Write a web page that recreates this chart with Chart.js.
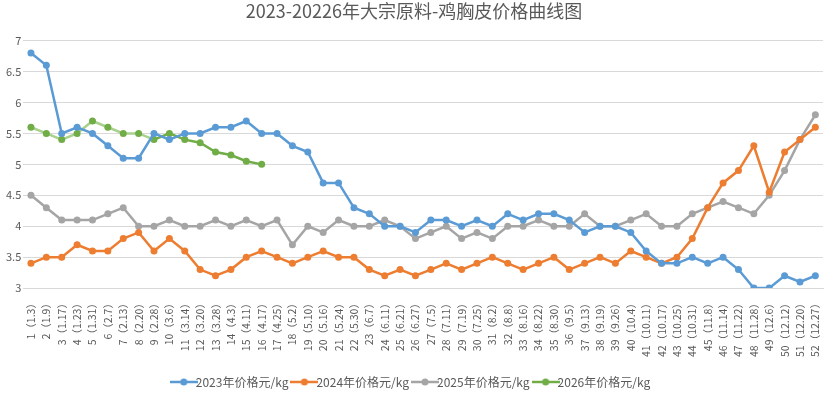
<!DOCTYPE html>
<html>
<head>
<meta charset="utf-8">
<script src="https://cdn.jsdelivr.net/npm/chart.js@4"></script>
<style>
  body { margin: 0; background: #fff; }
  #wrap { width: 830px; height: 395px; }
</style>
</head>
<body>
<div id="wrap"><canvas id="myChart"></canvas></div>
<script>
// 周次（日期）
const semanas = [
  "1（1.3）", "2（1.9）", "3（1.17）", "4（1.23）", "5（1.31）", "6（2.7）", "7（2.13）", "8（2.20）",
  "9（2.28）", "10（3.6）", "11（3.14）", "12（3.20）", "13（3.28）", "14（4.3）", "15（4.11）", "16（4.17）",
  "17（4.25）", "18（5.2）", "19（5.10）", "20（5.16）", "21（5.24）", "22（5.30）", "23（6.7）", "24（6.11）",
  "25（6.21）", "26（6.27）", "27（7.5）", "28（7.11）", "29（7.19）", "30（7.25）", "31（8.2）", "32（8.8）",
  "33（8.16）", "34（8.22）", "35（8.30）", "36（9.5）", "37（9.13）", "38（9.19）", "39（9.26）", "40（10.4）",
  "41（10.11）", "42（10.17）", "43（10.25）", "44（10.31）", "45（11.8）", "46（11.14）", "47（11.22）", "48（11.28）",
  "49（12.6）", "50（12.12）", "51（12.20）", "52（12.27）"
];

const precios2023 = [6.8, 6.6, 5.5, 5.6, 5.5, 5.3, 5.1, 5.1, 5.5, 5.4, 5.5, 5.5, 5.6, 5.6, 5.7, 5.5,
  5.5, 5.3, 5.2, 4.7, 4.7, 4.3, 4.2, 4.0, 4.0, 3.9, 4.1, 4.1, 4.0, 4.1, 4.0, 4.2,
  4.1, 4.2, 4.2, 4.1, 3.9, 4.0, 4.0, 3.9, 3.6, 3.4, 3.4, 3.5, 3.4, 3.5, 3.3, 3.0,
  3.0, 3.2, 3.1, 3.2];

const precios2024 = [3.4, 3.5, 3.5, 3.7, 3.6, 3.6, 3.8, 3.9, 3.6, 3.8, 3.6, 3.3, 3.2, 3.3, 3.5, 3.6,
  3.5, 3.4, 3.5, 3.6, 3.5, 3.5, 3.3, 3.2, 3.3, 3.2, 3.3, 3.4, 3.3, 3.4, 3.5, 3.4,
  3.3, 3.4, 3.5, 3.3, 3.4, 3.5, 3.4, 3.6, 3.5, 3.4, 3.5, 3.8, 4.3, 4.7, 4.9, 5.3,
  4.55, 5.2, 5.4, 5.6];

const precios2025 = [4.5, 4.3, 4.1, 4.1, 4.1, 4.2, 4.3, 4.0, 4.0, 4.1, 4.0, 4.0, 4.1, 4.0, 4.1, 4.0,
  4.1, 3.7, 4.0, 3.9, 4.1, 4.0, 4.0, 4.1, 4.0, 3.8, 3.9, 4.0, 3.8, 3.9, 3.8, 4.0,
  4.0, 4.1, 4.0, 4.0, 4.2, 4.0, 4.0, 4.1, 4.2, 4.0, 4.0, 4.2, 4.3, 4.4, 4.3, 4.2,
  4.5, 4.9, 5.4, 5.8];

const precios2026 = [5.6, 5.5, 5.4, 5.5, 5.7, 5.6, 5.5, 5.5, 5.4, 5.5, 5.4, 5.35, 5.2, 5.15, 5.05, 5.0];

const nombres = ["2023年价格元/kg", "2024年价格元/kg", "2025年价格元/kg", "2026年价格元/kg"];
const colores = ["#5b9bd5", "#ed7d31", "#a5a5a5", "#70ad47"];

const fuente = "'Noto Sans CJK SC', 'Noto Sans', sans-serif";

// icono de leyenda: linea con circulo
function iconoLeyenda(color) {
  const c = document.createElement("canvas");
  c.width = 28;
  c.height = 10;
  const ctx = c.getContext("2d");
  ctx.strokeStyle = color;
  ctx.lineWidth = 2.5;
  ctx.beginPath();
  ctx.moveTo(0, 5);
  ctx.lineTo(28, 5);
  ctx.stroke();
  ctx.fillStyle = color;
  ctx.beginPath();
  ctx.arc(14, 5, 3.5, 0, Math.PI * 2);
  ctx.fill();
  return c;
}

function serie(i, datos) {
  return {
    label: nombres[i],
    data: datos,
    borderColor: colores[i],
    backgroundColor: colores[i],
    borderWidth: 2.5,
    pointRadius: 3.5,
    pointHoverRadius: 3.5,
    pointBorderWidth: 0,
    pointStyle: "circle",
    tension: 0
  };
}

const s2026 = serie(3, precios2026);
// el primer tramo de 2026 se ve mas claro
s2026.segment = {
  borderColor: ctx => ctx.p0DataIndex < 8 ? "#a9d18e" : "#70ad47"
};

const config = {
  type: "line",
  data: {
    labels: semanas,
    datasets: [
      serie(0, precios2023),
      serie(1, precios2024),
      serie(2, precios2025),
      s2026
    ]
  },
  options: {
    responsive: true,
    maintainAspectRatio: false,
    animation: false,
    layout: { padding: { left: 4, right: 6, top: 0, bottom: -3 } },
    plugins: {
      title: {
        display: true,
        text: "2023-20226年大宗原料-鸡胸皮价格曲线图",
        color: "#595959",
        font: { family: fuente, size: 18, weight: "normal" },
        padding: { top: 0, bottom: 19 }
      },
      legend: {
        position: "bottom",
        labels: {
          color: "#595959",
          font: { family: fuente, size: 12 },
          usePointStyle: true,
          generateLabels: chart => chart.data.datasets.map((d, i) => ({
            text: d.label,
            fillStyle: colores[i],
            strokeStyle: colores[i],
            pointStyle: iconoLeyenda(colores[i]),
            fontColor: "#595959",
            datasetIndex: i,
            hidden: false
          })),
          boxWidth: 28,
          padding: 10
        }
      },
      tooltip: { enabled: false }
    },
    scales: {
      x: {
        offset: true,
        grid: { display: false },
        border: { color: "#d9d9d9" },
        afterFit: escala => { escala.height += 7; },
        ticks: {
          color: "#595959",
          font: { family: fuente, size: 10.5 },
          minRotation: 90,
          maxRotation: 90,
          autoSkip: false,
          padding: 2
        }
      },
      y: {
        min: 3,
        max: 7,
        grid: { color: "#d9d9d9", drawTicks: false },
        border: { display: false },
        ticks: {
          stepSize: 0.5,
          color: "#595959",
          font: { family: fuente, size: 11 },
          padding: 2,
          callback: v => String(v)
        }
      }
    }
  }
};

const chart = new Chart(document.getElementById("myChart"), config);
</script>
</body>
</html>
